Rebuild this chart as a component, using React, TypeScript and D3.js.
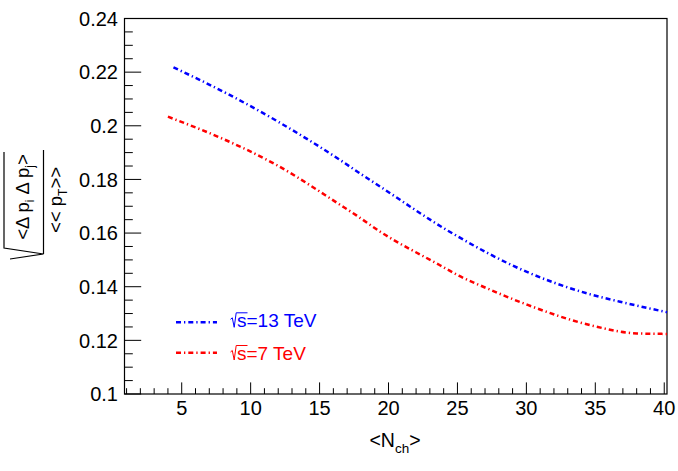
import { useEffect, useRef } from "react";
import * as d3 from "d3";

// <N_ch> positions and sqrt(<Δp_i Δp_j>)/<<p_T>> values
const NCH_13 = [4.4, 8.4, 12.0, 16.5, 17.8, 19.4, 24.5, 30.0, 34.4, 36.8, 40.2];
const VAL_13 = [0.2218, 0.2117, 0.2015, 0.1872, 0.1827, 0.1773, 0.1603, 0.1456, 0.1375, 0.1344, 0.1305];
const NCH_7 = [4.0, 8.0, 9.5, 11.8, 16.5, 17.7, 19.4, 23.7, 25.1, 26.6, 30.1, 34.6, 38.0, 40.2];
const VAL_7 = [0.2034, 0.1951, 0.1916, 0.1856, 0.1705, 0.1665, 0.1605, 0.1481, 0.1441, 0.1406, 0.1332, 0.1257, 0.1226, 0.1224];

const X_TICKS = [5, 10, 15, 20, 25, 30, 35, 40];
const Y_TICKS = [0.1, 0.12, 0.14, 0.16, 0.18, 0.2, 0.22, 0.24];
const Y_LABELS = ["0.1", "0.12", "0.14", "0.16", "0.18", "0.2", "0.22", "0.24"];

const SERIES = [
  { name: "13 TeV", color: "#0000ff", x: NCH_13, y: VAL_13 },
  { name: "7 TeV", color: "#ff0000", x: NCH_7, y: VAL_7 },
];

const FONT = "'Liberation Sans', Arial, Helvetica, sans-serif";
const DASH = "5 3 1.3 3";

export default function App() {
  const svgRef = useRef<SVGSVGElement>(null);

  useEffect(() => {
    const svg = svgRef.current;
    if (!svg) return;
    const W = 678;
    const H = 471;
    const m = { top: 18.5, right: 11, bottom: 77, left: 124.5 };

    const s = d3.select(svg);
    s.selectAll("*").remove();
    s.attr("width", W).attr("height", H);

    const xScale = d3.scaleLinear().domain([0.85, 40.2]).range([m.left, W - m.right]);
    const yScale = d3.scaleLinear().domain([0.1, 0.24]).range([H - m.bottom, m.top]);
    const [x0, x1] = xScale.range();
    const [y0, y1] = yScale.range();

    // frame
    s.append("rect")
      .attr("x", x0)
      .attr("y", y1)
      .attr("width", x1 - x0)
      .attr("height", y0 - y1)
      .attr("fill", "none")
      .attr("stroke", "#000")
      .attr("stroke-width", 1.2);

    // x ticks (inside, upward)
    const gx = s.append("g");
    gx.selectAll("line")
      .data(d3.range(1, 41))
      .join("line")
      .attr("x1", (d) => xScale(d))
      .attr("x2", (d) => xScale(d))
      .attr("y1", y0)
      .attr("y2", (d) => (d % 5 === 0 ? y0 - 11.6 : y0 - 5.8))
      .attr("stroke", "#000")
      .attr("stroke-width", 1);
    gx.selectAll("text")
      .data(X_TICKS)
      .join("text")
      .attr("x", (d) => xScale(d))
      .attr("y", y0 + 21)
      .attr("text-anchor", "middle")
      .attr("font-family", FONT)
      .attr("font-size", 20)
      .text((d) => d);

    // y ticks (inside, rightward)
    const gy = s.append("g");
    gy.selectAll("line")
      .data(d3.range(0, 29).map((i) => 0.1 + i * 0.005))
      .join("line")
      .attr("x1", x0)
      .attr("x2", (d, i) => (i % 4 === 0 ? x0 + 16.7 : x0 + 8.3))
      .attr("y1", (d) => yScale(d))
      .attr("y2", (d) => yScale(d))
      .attr("stroke", "#000")
      .attr("stroke-width", 1);
    gy.selectAll("text")
      .data(Y_TICKS)
      .join("text")
      .attr("x", x0 - 6.5)
      .attr("y", (d) => yScale(d))
      .attr("dy", "0.36em")
      .attr("text-anchor", "end")
      .attr("font-family", FONT)
      .attr("font-size", 20)
      .text((d, i) => Y_LABELS[i]);

    // curves
    const line = d3
      .line<[number, number]>()
      .x((d) => xScale(d[0]))
      .y((d) => yScale(d[1]))
      .curve(d3.curveMonotoneX);
    SERIES.forEach((sr) => {
      s.append("path")
        .attr("d", line(d3.zip(sr.x, sr.y) as [number, number][]))
        .attr("fill", "none")
        .attr("stroke", sr.color)
        .attr("stroke-width", 2.5)
        .attr("stroke-dasharray", DASH);
    });

    // legend
    SERIES.forEach((sr, i) => {
      const ly = 322.3 + i * 30.5;
      const by = 327.3 + i * 32.7;
      const g = s.append("g");
      g.append("line")
        .attr("x1", 176)
        .attr("x2", 217)
        .attr("y1", ly)
        .attr("y2", ly)
        .attr("stroke", sr.color)
        .attr("stroke-width", 2.5)
        .attr("stroke-dasharray", DASH);
      g.append("path")
        .attr("d", `M230.5,${by - 8} L232.3,${by - 9.5} L234.2,${by} L236.2,${by - 14.5} L247.5,${by - 14.5}`)
        .attr("fill", "none")
        .attr("stroke", sr.color)
        .attr("stroke-width", 1);
      g.append("text")
        .attr("x", 237)
        .attr("y", by)
        .attr("font-family", FONT)
        .attr("font-size", 19)
        .attr("fill", sr.color)
        .text(`s=${sr.name}`);
    });

    // x title <N_ch>
    const xt = s.append("text")
      .attr("x", 395)
      .attr("y", 446.7)
      .attr("text-anchor", "middle")
      .attr("font-family", FONT)
      .attr("font-size", 19.5);
    xt.append("tspan").text("<N");
    xt.append("tspan").attr("font-size", 13.5).attr("dy", 6).text("ch");
    xt.append("tspan").attr("dy", -6).text(">");

    // y title: sqrt( <Δp_i Δp_j> / <<p_T>> ), rotated
    const yt = s.append("g").attr("transform", "rotate(-90)");
    const num = yt.append("text")
      .attr("x", -197)
      .attr("y", 29)
      .attr("text-anchor", "middle")
      .attr("font-family", FONT)
      .attr("font-size", 18.5);
    num.append("tspan").text("<Δ p");
    num.append("tspan").attr("font-size", 12).attr("dy", 5).text("i");
    num.append("tspan").attr("dy", -5).text(" Δ p");
    num.append("tspan").attr("font-size", 12).attr("dy", 5).text("j");
    num.append("tspan").attr("dy", -5).text(">");
    const den = yt.append("text")
      .attr("x", -200)
      .attr("y", 62)
      .attr("text-anchor", "middle")
      .attr("font-family", FONT)
      .attr("font-size", 18.5);
    den.append("tspan").text("<< p");
    den.append("tspan").attr("font-size", 12).attr("dy", 5).text("T");
    den.append("tspan").attr("dy", -5).text(">>");
    s.append("path")
      .attr("d", "M43.5,150 L43.5,254 M10,259 L43.5,254 L4,248 L4,152")
      .attr("fill", "none")
      .attr("stroke", "#000")
      .attr("stroke-width", 1.2);
  }, []);

  return (
    <svg
      ref={svgRef}
      style={{ position: "absolute", left: 0, top: 0, background: "#fff", display: "block" }}
    />
  );
}
